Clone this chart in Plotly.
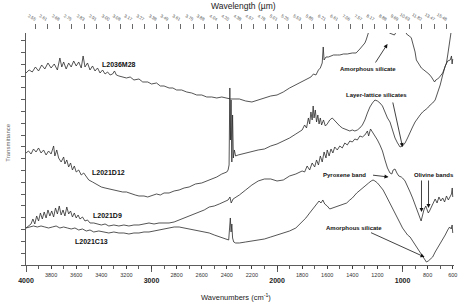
import plotly.graph_objects as go

# ---------------- data (wavenumber, cm-1 ; transmittance, offset a.u.) ----------------
wn_m28 = [4000,3975,3950,3925,3900,3875,3850,3825,3800,3775,3750,3730,3715,3700,3680,3660,3640,3620,3600,3580,
          3560,3545,3530,3510,3490,3470,3450,3430,3410,3390,3370,3350,3330,3310,3295,3280,3260,3230,3200,3170,
          3140,3100,3070,3030,3000,2960,2930,2900,2860,2830,2800,2760,2720,2680,2640,2600,2560,2520,2480,2440,
          2400,2370,2300,2250,2200,2150,2100,2050,2000,1950,1900,1850,1800,1760,1730,1710,1690,1670,1655,1640,
          1632,1625,1610,1590,1570,1550,1520,1500,1470,1440,1400,1370,1340,1320,1300,1290,1280,1270,1260,1245,
          1230,1215,1200,1185,1165,1145,1125,1105,1085,1065,1050,1035,1020,1005,990,975,960,945,930,915,
          900,890,870,850,830,810,790,770,755,745,735,720,705,690,680,665,650,640,630,620,612,605,600]
t_m28 = [192,195,193,198,194,200,196,202,197,201,195,207,198,203,196,202,198,204,199,203,
         197,209,198,202,195,199,194,197,192,195,191,193,190,191,194,190,189,188,187,188,
         185,186,183,183,181,182,179,179,177,177,175,175,173,172,170,170,168,168,167,168,
         167,166,166,164,163,165,167,169,170,173,177,180,183,186,188,191,190,195,197,202,
         218,205,208,208,209,210,210,210,211,211,212,212,216,219,222,225,230,235,237,234,
         239,236,238,235,237,234,235,232,231,230,233,236,234,237,235,232,230,229,227,220,
         213,205,201,197,195,193,191,188,185,183,185,186,188,190,192,197,202,210,218,227,235,240,237]

wn_d12 = [4000,3980,3960,3940,3920,3900,3880,3860,3840,3820,3800,3780,3770,3755,3740,3720,3700,3690,3675,3660,
          3645,3630,3615,3600,3580,3560,3540,3520,3500,3470,3440,3400,3370,3340,3300,3260,3230,3200,3160,3130,
          3100,3060,3030,3000,2960,2930,2900,2860,2820,2780,2740,2700,2650,2600,2560,2520,2480,2440,2400,2390,
          2382,2376,2371,2366,2360,2354,2348,2340,2330,2310,2280,2250,2200,2150,2100,2050,2000,1950,1900,1850,
          1820,1800,1780,1765,1750,1740,1730,1720,1712,1705,1695,1685,1675,1665,1655,1645,1630,1615,1600,1580,
          1560,1540,1520,1500,1480,1460,1440,1420,1400,1380,1360,1340,1320,1300,1280,1260,1240,1220,1200,1180,
          1160,1140,1120,1100,1080,1060,1040,1020,1000,980,960,940,920,900,880,860,840,820,800,780,
          760,740,720,700,680,660,640,620,610,605,600]
t_d12 = [112,114,111,116,113,117,112,115,110,114,111,119,109,115,107,103,108,101,105,98,
         102,95,99,93,95,90,92,88,85,83,81,78,77,76,75,74,73,73,71,70,
         69,69,68,69,71,70,72,72,74,75,77,78,81,82,84,86,88,91,93,95,
         100,177,125,165,103,150,107,115,109,110,111,112,113,115,116,119,121,124,127,131,
         133,135,140,137,147,141,153,145,159,147,155,143,150,141,147,140,145,139,141,145,
         147,144,141,139,137,136,135,134,135,134,135,137,140,145,152,158,162,165,164,162,
         159,153,147,143,135,127,122,118,119,122,127,133,138,143,147,150,153,155,157,160,
         162,165,172,180,190,199,204,205,209,201,206]

wn_d9 = [4000,3980,3960,3945,3930,3915,3900,3885,3870,3855,3840,3825,3810,3795,3780,3765,3750,3735,3720,3705,
         3690,3675,3660,3645,3630,3615,3600,3585,3570,3550,3530,3510,3490,3460,3430,3400,3370,3340,3300,3260,
         3220,3180,3140,3100,3060,3020,2980,2940,2900,2860,2820,2780,2740,2700,2660,2620,2580,2540,2500,2460,
         2420,2390,2375,2365,2350,2320,2300,2250,2200,2150,2100,2050,2000,1950,1900,1850,1800,1780,1760,1740,
         1720,1700,1685,1670,1655,1640,1625,1610,1600,1585,1570,1555,1540,1520,1500,1480,1460,1440,1420,1400,
         1380,1360,1340,1320,1300,1280,1270,1255,1240,1220,1200,1180,1160,1140,1120,1100,1085,1075,1060,1045,
         1030,1010,1000,980,960,940,920,900,880,865,852,842,830,815,805,795,785,770,755,740,
         725,710,695,680,665,650,635,620,610,604,600]
t_d9 = [37,39,41,46,41,49,44,52,46,53,47,55,49,54,48,57,51,59,50,55,
        49,58,51,54,48,52,47,50,46,48,44,45,42,42,41,40,41,39,40,39,
        40,39,40,40,41,42,41,42,42,42,43,45,47,49,51,53,55,58,59,61,
        63,65,68,62,66,68,70,75,80,84,86,86,84,85,89,91,94,93,99,95,
        102,98,105,100,109,103,113,107,115,109,116,112,118,115,119,117,122,120,124,123,
        126,125,129,128,130,134,129,136,133,130,125,120,114,105,97,92,91,95,96,92,
        89,88,87,84,79,73,67,60,53,48,44,49,55,59,56,52,54,58,63,66,
        62,68,64,67,63,69,65,68,71,77,68]

wn_c13 = [4000,3970,3940,3910,3880,3850,3820,3790,3760,3730,3700,3670,3640,3610,3580,3550,3520,3490,3460,3420,
          3380,3340,3300,3260,3220,3180,3140,3100,3060,3020,2980,2940,2900,2860,2820,2780,2740,2700,2660,2620,
          2580,2540,2500,2460,2420,2400,2385,2378,2372,2366,2360,2354,2345,2330,2300,2250,2200,2150,2100,2050,
          2000,1950,1900,1850,1800,1770,1740,1720,1700,1680,1665,1650,1635,1620,1600,1580,1560,1540,1520,1500,
          1470,1445,1420,1400,1365,1330,1300,1270,1250,1235,1220,1200,1180,1155,1130,1100,1070,1045,1020,1000,
          980,960,940,920,900,880,860,840,825,810,795,780,760,740,720,700,680,660,640,625,612,605,600]
t_c13 = [37,38,39,38,39,38,37,38,39,37,38,37,36,37,35,36,34,35,33,34,
         33,32,33,32,32,31,32,32,33,33,34,35,36,37,38,38,37,36,35,34,
         33,32,30,28,26,25,25,37,47,33,41,27,23,22,22,23,24,25,26,28,
         30,32,34,37,43,47,52,55,59,61,64,62,65,61,59,56,57,58,59,60,
         61,62,65,67,72,76,79,82,84,85,84,82,79,75,69,62,55,48,42,37,
         33,30,28,24,20,16,12,8,5,3,4,6,8,13,17,21,25,30,35,38,36,40,32]

sample_names = ["L2036M28", "L2021D12", "L2021D9", "L2021C13"]

bottom_minor_labels = ["3800","3600","3400","3200","2800","2600","2400","2200",
                       "1800","1600","1400","1200","800","600"]
bottom_major_labels = ["4000","3000","2000","1000"]
top_wavelength_labels = ["2.55","2.61","2.68","2.75","2.83","2.91","3.00","3.08","3.17","3.27",
                         "3.38","3.49","3.61","3.75","3.88","4.04","4.20","4.38","4.57","4.78",
                         "5.01","5.25","5.53","5.85","6.21","6.61","7.06","7.57","8.17","8.88",
                         "9.69","10.63","11.82","13.47","15.48"]

# ---------------- figure ----------------
FONT = "Liberation Sans, Arial, sans-serif"
INK = "#2a2a2a"
XR = [4000, 590]

fig = go.Figure()
for wn, t in [(wn_m28, t_m28), (wn_d12, t_d12), (wn_d9, t_d9), (wn_c13, t_c13)]:
    fig.add_trace(go.Scatter(x=wn, y=t, mode="lines", line=dict(color=INK, width=0.8),
                             hoverinfo="skip", showlegend=False))
# invisible anchors so the extra axes are drawn
for ax in ["x2", "x3"]:
    fig.add_trace(go.Scatter(x=[600], y=[0], xaxis=ax, yaxis="y", mode="markers",
                             marker=dict(opacity=0), hoverinfo="skip", showlegend=False))

minor_vals = [int(v) for v in bottom_minor_labels]
major_vals = [int(v) for v in bottom_major_labels]
top_vals = [10000.0 / float(v) for v in top_wavelength_labels]

fig.update_layout(
    width=460, height=304, autosize=False,
    margin=dict(l=26, r=6, t=20, b=39, pad=0),
    paper_bgcolor="white", plot_bgcolor="white",
    template="none",
    font=dict(family=FONT, color=INK),
    xaxis=dict(range=XR, tickmode="array", tickvals=minor_vals, ticktext=bottom_minor_labels,
               ticks="outside", ticklen=3, tickwidth=0.8, tickcolor="#333",
               showline=True, linecolor="#333", linewidth=0.8, showgrid=False, zeroline=False,
               tickfont=dict(size=5.5, family=FONT, color="#333"), anchor="y",
               ticklabelstandoff=2,
               minor=dict(tickvals=list(range(3900, 590, -100)), ticks="outside", ticklen=3,
                          tickwidth=0.8, tickcolor="#333", showgrid=False)),
    xaxis3=dict(range=XR, overlaying="x", side="bottom", anchor="y",
                tickmode="array", tickvals=major_vals,
                ticktext=["<b>%s</b>" % s for s in bottom_major_labels],
                ticks="outside", ticklen=6, tickwidth=0.8, tickcolor="#333",
                showline=False, showgrid=False, zeroline=False, ticklabelstandoff=3,
                tickfont=dict(size=7, family=FONT, color="#222")),
    xaxis2=dict(range=XR, overlaying="x", side="top", anchor="free", position=0.9878,
                tickmode="array", tickvals=top_vals, ticktext=top_wavelength_labels,
                ticks="inside", ticklen=5, tickwidth=0.8, tickcolor="#444",
                showline=False, showgrid=False, zeroline=False, ticklabelstandoff=1,
                tickfont=dict(size=4.3, family=FONT, color="#444")),
    yaxis=dict(range=[0, 232], domain=[0, 0.947], tickmode="array",
               tickvals=[11.8 * i for i in range(20)], ticks="outside", ticklen=4,
               tickwidth=0.8, tickcolor="#333", showticklabels=False,
               showline=True, linecolor="#333", linewidth=0.8, showgrid=False, zeroline=False),
)

ann = []
def label(text, x, y, size=7, bold=True):
    ann.append(dict(text=("<b>%s</b>" % text) if bold else text, x=x, y=y, xref="x", yref="y",
                    showarrow=False, font=dict(size=size, family=FONT, color="#111")))

def arrow(x0, y0, x1, y1):
    ann.append(dict(text="", x=x1, y=y1, ax=x0, ay=y0, xref="x", yref="y", axref="x", ayref="y",
                    showarrow=True, arrowhead=2, arrowsize=1, arrowwidth=0.8, arrowcolor="#111",
                    standoff=0, startstandoff=0))

label(sample_names[0], 3263, 200)
label(sample_names[1], 3343, 92)
label(sample_names[2], 3351, 49)
label(sample_names[3], 3478, 23)
label("Amorphous silicate", 1279, 196, size=6)
arrow(1223, 201, 1120, 221)
label("Layer-lattice silicates", 1207, 170, size=6)
arrow(1080, 164, 1000, 118)
label("Pyroxene band", 1462, 90, size=6)
arrow(1247, 90, 1112, 88)
label("Olivine bands", 753, 90, size=6)
arrow(849, 86, 849, 53)
arrow(793, 86, 793, 57)
label("Amorphous silicate", 1383, 37, size=6)
arrow(1263, 33, 825, 8)

ann.append(dict(text="Wavelength (µm)", x=0.509, y=1.057, xref="paper", yref="paper",
                xanchor="center", yanchor="middle",
                showarrow=False, font=dict(size=8.5, family=FONT, color="#222")))
ann.append(dict(text="Wavenumbers (cm<sup>-1</sup>)", x=0.49, y=-0.131, xref="paper", yref="paper",
                xanchor="center", yanchor="middle",
                showarrow=False, font=dict(size=7.5, family=FONT, color="#222")))
ann.append(dict(text="Transmittance", x=-0.044, y=0.5, xref="paper", yref="paper", textangle=-90,
                xanchor="center", yanchor="middle",
                showarrow=False, font=dict(size=6, family=FONT, color="#666")))
fig.update_layout(annotations=ann)

fig.write_html("out.html", config={"displayModeBar": False, "staticPlot": True},
               post_script="document.body.style.margin='0';document.body.style.padding='0';")
